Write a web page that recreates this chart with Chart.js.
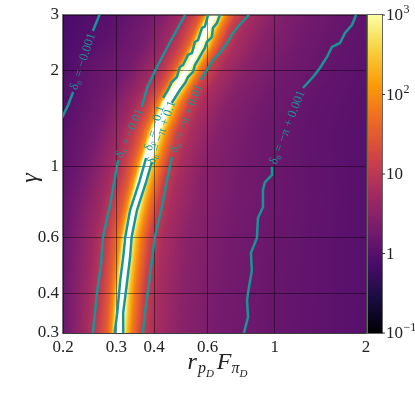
<!DOCTYPE html>
<html><head><meta charset="utf-8">
<script src="https://cdn.jsdelivr.net/npm/chart.js@4/dist/chart.umd.min.js"></script>
<style>html,body{margin:0;padding:0;background:#fff;}#wrap{width:415px;height:396px;position:relative;}</style>
</head><body><div id="wrap"><canvas id="c"></canvas></div>
<script>
// ---- tick labels ----
const xTicks = [0.2, 0.3, 0.4, 0.6, 1, 2];
const yTicks = [0.3, 0.4, 0.6, 1, 2, 3];
const cbTicks = [0.1, 1, 10, 100, 1000];
const cbMantissa = ['10', '1', '10', '10', '10'];
const cbExponent = ['−1', '', '', '2', '3'];
const xTitleParts = ['r', 'p', 'D', 'F', 'π', 'D'];
const yTitle = 'γ';

// ---- heat map rows (γ value, x samples, heat values) ----
const gammaRows = [0.3, 0.4, 0.6, 0.8, 1.0, 1.3, 1.6, 2.0, 2.4, 2.7, 3.0];
const rowX = [
  [0.200,0.235,0.259,0.278,0.288,0.296,0.306,0.316,0.326,0.337,0.362,0.399,0.483,0.654,0.957,2.0],
  [0.200,0.240,0.267,0.284,0.294,0.304,0.314,0.323,0.333,0.345,0.370,0.409,0.494,0.670,0.979,2.0],
  [0.200,0.251,0.278,0.296,0.309,0.318,0.328,0.337,0.349,0.362,0.388,0.428,0.517,0.701,1.024,2.0],
  [0.200,0.222,0.269,0.296,0.318,0.330,0.340,0.351,0.362,0.373,0.388,0.415,0.457,0.554,0.750,1.097,2.0],
  [0.200,0.237,0.286,0.316,0.337,0.351,0.362,0.373,0.385,0.396,0.412,0.441,0.486,0.588,0.797,1.166,2.0],
  [0.200,0.257,0.311,0.343,0.367,0.382,0.393,0.406,0.418,0.431,0.447,0.479,0.529,0.639,0.867,1.268,2.0],
  [0.200,0.282,0.340,0.376,0.402,0.418,0.428,0.444,0.461,0.472,0.490,0.525,0.579,0.701,0.949,1.389,2.0],
  [0.200,0.238,0.323,0.391,0.431,0.461,0.475,0.486,0.509,0.533,0.545,0.562,0.602,0.665,0.803,1.089,1.592,2.0],
  [0.200,0.267,0.364,0.435,0.479,0.513,0.529,0.541,0.567,0.592,0.607,0.625,0.670,0.739,0.893,1.211,1.770,2.0],
  [0.200,0.280,0.379,0.457,0.506,0.541,0.558,0.570,0.597,0.625,0.639,0.659,0.706,0.779,0.942,1.277,2.0],
  [0.200,0.294,0.399,0.483,0.533,0.570,0.588,0.602,0.630,0.659,0.675,0.696,0.745,0.822,0.993,1.347,2.0]
];
const rowV = [
  [1.7,5,12,32,100,1000,4000,1000,250,70,15,6.5,3.3,2.0,1.5,1.0],
  [1.6,5,12,32,100,1000,4000,1000,250,70,15,6.5,3.2,2.0,1.5,1.0],
  [1.5,5,12,32,100,1000,4000,1000,250,70,15,6.5,3.2,2.0,1.5,1.0],
  [1.35,2.0,5,12,32,100,1000,4000,1000,250,70,15,6.5,3.2,2.0,1.5,1.0],
  [1.2,1.9,5,12,32,100,1000,4000,1000,250,70,15,6.5,3.0,1.9,1.4,1.0],
  [1.1,1.9,5,12,32,100,1000,3000,1000,250,70,15,6.5,3.0,1.8,1.3,1.0],
  [0.95,2.0,5,12,32,100,900,2200,900,250,70,15,6.5,3.0,1.8,1.3,1.05],
  [0.85,1.3,2.0,5,12,32,100,650,1400,650,250,70,15,6.5,3.0,1.8,1.3,1.1],
  [0.8,1.15,2.0,5,12,32,100,650,1300,650,250,70,15,6.5,3.0,1.8,1.25,1.15],
  [0.78,1.1,2.0,5,12,32,100,650,1400,650,250,70,15,6.5,3.0,1.8,1.2],
  [0.78,1.05,2.0,5,12,32,100,650,1300,650,250,70,15,6.5,3.0,1.8,1.2]
];

// ---- δ0 contour lines ([x, γ] points, null = label gap) ----
const contourM0001 = [[0.266,3.06],[0.251,2.673],null,[0.216,1.718],[0.208,1.564],[0.196,1.39]];
const contourM001 = [[0.506,3.0],[0.451,2.467],[0.402,2.0],[0.379,1.768],[0.364,1.541],null,[0.304,1.050],[0.296,0.908],[0.286,0.758],[0.271,0.601],[0.267,0.491],[0.259,0.401],[0.251,0.3]];
const contourM01 = [[0.602,3.0],[0.588,2.761],[0.575,2.731],[0.558,2.503],[0.545,2.467],[0.533,2.279],[0.517,2.246],[0.498,2.089],[0.486,2.059],[0.475,1.915],[0.457,1.847],[0.444,1.743],[0.428,1.645],null,[0.376,1.065],[0.357,0.895],[0.333,0.731],[0.321,0.601],[0.316,0.520],[0.309,0.440],[0.302,0.347],[0.296,0.3]];
const contourPi01 = [[0.659,3.0],[0.644,2.831],[0.625,2.731],[0.620,2.558],[0.597,2.467],[0.588,2.363],[0.575,2.279],[0.558,2.166],[0.545,2.089],[0.537,1.986],[0.517,1.915],[0.506,1.834],[0.486,1.743],[0.468,1.645],[0.457,1.586],null,[0.393,1.035],[0.376,0.895],[0.351,0.731],[0.337,0.601],[0.333,0.520],[0.326,0.440],[0.316,0.347],[0.316,0.3]];
const contourPi001 = [[0.822,3.0],[0.756,2.761],[0.728,2.634],[0.696,2.450],[0.659,2.279],[0.625,2.166],[0.597,2.014],[0.570,1.874],null,[0.457,1.073],[0.441,0.908],[0.422,0.731],[0.402,0.601],[0.388,0.463],[0.373,0.347],[0.367,0.3]];
const contourPi0001 = [[1.854,3.0],[1.797,2.79],[1.705,2.634],[1.641,2.450],[1.544,2.380],[1.487,2.214],[1.409,2.044],[1.337,1.915],[1.239,1.768],null,[0.979,1.0],[0.979,0.942],[0.928,0.895],[0.914,0.845],[0.914,0.747],[0.880,0.690],[0.873,0.597],[0.834,0.536],[0.840,0.473],[0.816,0.401],[0.810,0.381],[0.816,0.337],[0.791,0.3]];
const contourLabels = ['δ₀ = −0.001','δ₀ = −0.01','δ₀ = −0.1','δ₀ = −π + 0.1','δ₀ = −π + 0.01','δ₀ = −π + 0.001'];
const contourSets = [contourM0001, contourM001, contourM01, contourPi01, contourPi001, contourPi0001];

// ---- styling ----
const TEAL = 'rgb(22,150,150)';
const SERIF = '"Liberation Serif", "DejaVu Serif", serif';
const infernoStops = [[0,0,4],[27,12,66],[75,12,107],[120,28,109],[165,44,96],[207,68,70],[237,105,37],[251,154,6],[247,208,60],[252,255,164]];
function cmap(t){
  if (t > 1) return [255,255,255];
  if (t <= 0) return infernoStops[0];
  const f = t*(infernoStops.length-1), i = Math.min(Math.floor(f), infernoStops.length-2), u = f-i;
  const a = infernoStops[i], b = infernoStops[i+1];
  return [a[0]+(b[0]-a[0])*u, a[1]+(b[1]-a[1])*u, a[2]+(b[2]-a[2])*u];
}
function rowInterp(R, lx){
  const xs = R.lx, vs = R.lv, n = xs.length;
  if (lx <= xs[0]) return vs[0];
  if (lx >= xs[n-1]) return vs[n-1];
  let k = 0; while (k < n-2 && lx > xs[k+1]) k++;
  const u = (lx-xs[k])/(xs[k+1]-xs[k]);
  return vs[k]+(vs[k+1]-vs[k])*u;
}

const heatPlugin = {
  id: 'heat',
  beforeDraw(chart){
    const {ctx, chartArea: a} = chart;
    const xs = chart.scales.x, ys = chart.scales.y;
    const L = Math.round(a.left), T = Math.round(a.top);
    const W = Math.round(a.right) - L, H = Math.round(a.bottom) - T;
    const rows = gammaRows.map((g, r) => {
      const lx = rowX[r].map(Math.log10), lv = rowV[r].map(Math.log10);
      let im = 0; lv.forEach((v, i) => { if (v > lv[im]) im = i; });
      return {lg: Math.log10(g), lx, lv, lp: lx[im]};
    });
    const off = document.createElement('canvas'); off.width = W; off.height = H;
    const octx = off.getContext('2d'); const img = octx.createImageData(W, H); const D = img.data;
    const colLx = []; for (let i = 0; i < W; i++) colLx.push(Math.log10(xs.getValueForPixel(L+i+0.5)));
    for (let j = 0; j < H; j++){
      const lg = Math.log10(ys.getValueForPixel(T+j+0.5));
      let r = 0; while (r < rows.length-2 && lg > rows[r+1].lg) r++;
      const A = rows[r], B = rows[r+1];
      let t = (lg-A.lg)/(B.lg-A.lg); t = Math.max(0, Math.min(1, t));
      const lpc = A.lp + (B.lp-A.lp)*t;
      for (let i = 0; i < W; i++){
        const d = colLx[i]-lpc;
        const v = rowInterp(A, A.lp+d)*(1-t) + rowInterp(B, B.lp+d)*t;
        const c = cmap((v+1)/4);
        const k = (j*W+i)*4; D[k]=c[0]; D[k+1]=c[1]; D[k+2]=c[2]; D[k+3]=255;
      }
    }
    octx.putImageData(img, 0, 0);
    ctx.drawImage(off, L, T);
  },
  afterDatasetsDraw(chart){
    const {ctx, chartArea: a} = chart;
    const xs = chart.scales.x, ys = chart.scales.y;
    ctx.save();
    ctx.beginPath(); ctx.rect(a.left, a.top, a.right-a.left, a.bottom-a.top); ctx.clip();
    ctx.fillStyle = TEAL; ctx.font = '12.5px ' + SERIF; ctx.textAlign = 'center'; ctx.textBaseline = 'middle';
    contourSets.forEach((pts, n) => {
      const g = pts.indexOf(null); if (g < 1) return;
      const p1 = pts[g-1], p2 = pts[g+1];
      const ax = xs.getPixelForValue(p1[0]), ay = ys.getPixelForValue(p1[1]);
      const bx = xs.getPixelForValue(p2[0]), by = ys.getPixelForValue(p2[1]);
      ctx.save(); ctx.translate((ax+bx)/2, (ay+by)/2); ctx.rotate(Math.atan2(ay-by, ax-bx));
      ctx.fillText(contourLabels[n], 0, 0); ctx.restore();
    });
    ctx.restore();
  },
  afterDraw(chart){
    const {ctx, chartArea: a} = chart;
    const cb = chart.scales.yc;
    // frame
    ctx.save();
    ctx.strokeStyle = 'rgba(0,0,0,0.55)'; ctx.lineWidth = 1;
    ctx.strokeRect(Math.round(a.left)-0.5, Math.round(a.top)-0.5, Math.round(a.right-a.left)+1, Math.round(a.bottom-a.top)+1);
    // colorbar
    const bx0 = Math.round(a.right) + 2, bw = 14;
    const top = Math.round(cb.getPixelForValue(1000)), bot = Math.round(cb.getPixelForValue(0.1));
    for (let py = top; py < bot; py++){
      const v = Math.log10(cb.getValueForPixel(py+0.5));
      const c = cmap(Math.min(1, (v+1)/4));
      ctx.fillStyle = 'rgb('+c.map(Math.round).join(',')+')';
      ctx.fillRect(bx0, py, bw, 1);
    }
    ctx.strokeStyle = 'rgba(0,0,0,0.6)';
    ctx.strokeRect(bx0-0.5, top-0.5, bw+1, bot-top+1);
    ctx.fillStyle = '#222'; ctx.strokeStyle = '#333';
    cbTicks.forEach((v, i) => {
      const y = cb.getPixelForValue(v);
      ctx.beginPath(); ctx.moveTo(bx0+bw, y); ctx.lineTo(bx0+bw+3, y); ctx.stroke();
      ctx.textAlign = 'left'; ctx.textBaseline = 'middle';
      ctx.font = '17px ' + SERIF;
      const x0 = bx0+bw+4;
      ctx.fillText(cbMantissa[i], x0, y+1);
      if (cbExponent[i]){
        const w = ctx.measureText(cbMantissa[i]).width;
        ctx.font = '12px ' + SERIF;
        ctx.fillText(cbExponent[i], x0+w+0.5, y-5);
      }
    });
    // y title
    ctx.save(); ctx.translate(31, 178); ctx.rotate(-Math.PI/2);
    ctx.font = 'italic 24px ' + SERIF; ctx.textAlign = 'center'; ctx.textBaseline = 'middle';
    ctx.fillStyle = '#222'; ctx.fillText(yTitle, 0, 0); ctx.restore();
    // x title: r_{p_D} F_{π_D}
    const sizes = [24, 16, 11, 24, 16, 11], dys = [0, 4, 8, 0, 4, 8], gaps = [0, 1, 0, 3, 0, 0];
    let total = 0; const ws = [];
    xTitleParts.forEach((s, i) => { ctx.font = 'italic ' + sizes[i] + 'px ' + SERIF; const w = ctx.measureText(s).width; ws.push(w); total += w + gaps[i]; });
    let x = (a.left + a.right)/2 - total/2 + 3;
    ctx.fillStyle = '#222'; ctx.textAlign = 'left'; ctx.textBaseline = 'alphabetic';
    xTitleParts.forEach((s, i) => { x += gaps[i]; ctx.font = 'italic ' + sizes[i] + 'px ' + SERIF; ctx.fillText(s, x, 369 + dys[i]); x += ws[i]; });
    ctx.restore();
  }
};

const gridOpts = { color: 'rgba(0,0,0,0.45)', lineWidth: 1, drawTicks: false };
new Chart(document.getElementById('c'), {
  type: 'scatter',
  data: {
    datasets: contourSets.map(pts => ({
      data: pts.map(p => p ? {x: p[0], y: p[1]} : {x: null, y: null}),
      showLine: true, spanGaps: false, borderColor: TEAL, borderWidth: 2.5,
      pointRadius: 0, pointHoverRadius: 0, fill: false, tension: 0
    }))
  },
  options: {
    responsive: true, maintainAspectRatio: false, animation: false, devicePixelRatio: 1,
    layout: { padding: { top: 15, left: 0, right: 0, bottom: 0 } },
    plugins: { legend: { display: false }, tooltip: { enabled: false } },
    events: [],
    scales: {
      x: {
        type: 'logarithmic', min: 0.2, max: 2, position: 'bottom',
        afterFit: s => { s.height = 63; },
        afterBuildTicks: s => { s.ticks = xTicks.map(v => ({value: v})); },
        grid: gridOpts, border: { display: false },
        ticks: { autoSkip: false, maxRotation: 0, padding: 4, color: '#222', font: { family: SERIF, size: 17 }, callback: v => String(v) }
      },
      y: {
        type: 'logarithmic', min: 0.3, max: 3, position: 'left',
        afterFit: s => { s.width = 63; },
        afterBuildTicks: s => { s.ticks = yTicks.map(v => ({value: v})); },
        grid: gridOpts, border: { display: false },
        ticks: { autoSkip: false, padding: 4, color: '#222', font: { family: SERIF, size: 17 }, callback: v => String(v) }
      },
      yc: {
        type: 'logarithmic', axis: 'y', min: 0.1, max: 1000, position: 'right',
        afterFit: s => { s.width = 49; },
        afterBuildTicks: s => { s.ticks = cbTicks.map(v => ({value: v})); },
        grid: { display: false, drawOnChartArea: false }, border: { display: false },
        ticks: { display: false }
      }
    }
  },
  plugins: [heatPlugin]
});
</script>
</body></html>
